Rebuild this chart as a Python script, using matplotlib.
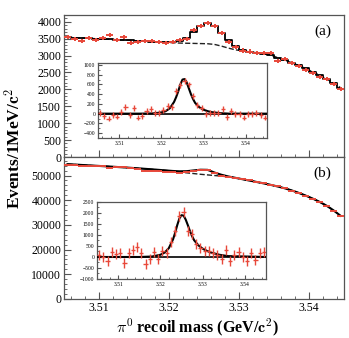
import numpy as np
import matplotlib
matplotlib.use("Agg")
import matplotlib.pyplot as plt
from matplotlib.ticker import MultipleLocator

plt.rcParams['font.family'] = ['Liberation Serif', 'DejaVu Serif']
plt.rcParams['mathtext.fontset'] = 'cm'

# bin centres (1 MeV bins)
mass = np.arange(40) * 0.001 + 3.5055

# panel (a)
data_a = [3550, 3500, 3420, 3510, 3470, 3530, 3620, 3470, 3540, 3380,
          3410, 3420, 3440, 3400, 3360, 3390, 3460, 3490, 3760, 3880,
          3970, 3880, 3660, 3410, 3240, 3150, 3120, 3090, 3070, 3090,
          2840, 2890, 2770, 2690, 2570, 2480, 2380, 2300, 2160, 2000]
fit_a = [3540, 3530, 3520, 3510, 3500, 3490, 3480, 3470, 3460, 3450,
         3430, 3420, 3410, 3400, 3390, 3390, 3430, 3530, 3700, 3880,
         3960, 3870, 3670, 3450, 3280, 3170, 3120, 3090, 3060, 3020,
         2940, 2870, 2790, 2710, 2620, 2520, 2420, 2310, 2190, 2050]
bkg_a = [3540, 3530, 3520, 3510, 3500, 3490, 3480, 3470, 3460, 3450,
         3430, 3420, 3410, 3400, 3390, 3380, 3370, 3365, 3360, 3355,
         3350, 3330, 3280, 3220, 3170, 3140, 3110, 3085, 3060, 3020,
         2940, 2870, 2790, 2710, 2620, 2520, 2420, 2310, 2190, 2050]
err_a = 60

# inset (a): background subtracted
sig_a = [20, -50, -100, -20, -60, 40, 140, -30, 110, -80,
         -50, 50, 90, 20, 20, 70, 150, 140, 470, 580,
         670, 600, 360, 170, 110, -10, 10, 10, 10, 100,
         -70, 50, 0, 0, -80, 0, 0, 10, -30, -80]
curve_x = [3.505, 3.515, 3.518, 3.520, 3.521, 3.522, 3.523, 3.5235, 3.524,
           3.5245, 3.525, 3.5255, 3.526, 3.5265, 3.527, 3.5275, 3.528,
           3.529, 3.530, 3.531, 3.532, 3.534, 3.536, 3.545]
curve_a = [0, 0, 5, 25, 50, 110, 240, 340, 460, 600, 700, 710, 640, 520,
           400, 300, 220, 130, 80, 50, 30, 10, 0, 0]

# panel (b)
data_b = [54400, 54270, 54000, 54000, 53730, 53730, 53070, 53330, 53330, 52930,
          52670, 52000, 52000, 51730, 51600, 51330, 51070, 51330, 52000, 52270,
          52270, 50930, 50000, 49330, 48930, 48400, 48000, 47470, 46930, 46270,
          45600, 44800, 43870, 42930, 41870, 40670, 39330, 37730, 35730, 33600]
fit_b = [54600, 54450, 54280, 54120, 53960, 53800, 53640, 53470, 53300, 53120,
         52930, 52730, 52520, 52300, 52070, 51850, 51700, 51750, 52050, 52350,
         52300, 51200, 50300, 49600, 49050, 48500, 47950, 47400, 46830, 46230,
         45580, 44850, 44000, 43000, 41900, 40700, 39350, 37800, 35900, 33700]
bkg_b = [54600, 54450, 54280, 54120, 53960, 53800, 53640, 53470, 53300, 53120,
         52930, 52730, 52520, 52300, 52070, 51800, 51450, 51100, 50800, 50500,
         50250, 50000, 49750, 49450, 49050, 48500, 47950, 47400, 46830, 46230,
         45580, 44850, 44000, 43000, 41900, 40700, 39350, 37800, 35900, 33700]
err_b = 230

sig_b = [90, -20, -200, 210, 140, 180, -290, 180, 320, 440,
         170, -320, -90, 210, -90, 290, 180, 700, 1200, 1880,
         2060, 1200, 1050, 590, 400, 290, 290, 180, 90, -90,
         330, -200, 90, 210, -20, -170, 180, -130, 180, 210]
curve_b = [0, 0, 20, 100, 200, 400, 800, 1100, 1450, 1750, 1900, 1880,
           1700, 1450, 1180, 950, 760, 530, 380, 280, 200, 100, 40, 0]

red = '#e8483a'
frame = '#555555'

fig = plt.figure(figsize=(3.49, 3.38), dpi=100)
ax_a = fig.add_axes([0.1834, 0.5355, 0.8023, 0.4201])
ax_b = fig.add_axes([0.1834, 0.1154, 0.8023, 0.4201])
in_a = fig.add_axes([0.2808, 0.5917, 0.4842, 0.2219])
in_b = fig.add_axes([0.2779, 0.1746, 0.4842, 0.2278])


def style(ax, size, major, minor):
    for s in ax.spines.values():
        s.set_color(frame)
        s.set_linewidth(0.9)
    ax.tick_params(which='both', direction='in', color=frame, labelsize=size,
                   top=False, right=False, pad=2)
    ax.tick_params(which='major', length=major)
    ax.tick_params(which='minor', length=minor)


# main panels
for ax, d, f, b, e in [(ax_a, data_a, fit_a, bkg_a, err_a),
                       (ax_b, data_b, fit_b, bkg_b, err_b)]:
    ax.plot(mass, b, '--', color='#222222', lw=1.0, zorder=2)
    if ax is ax_a:
        ax.plot(mass, f, color='black', lw=1.3, drawstyle='steps-mid', zorder=3)
    else:
        ax.plot(mass, f, color='black', lw=1.5, zorder=3)
    ax.errorbar(mass, d, xerr=0.0005, yerr=e, fmt='none', ecolor=red,
                elinewidth=1.4, capsize=0, zorder=4)
    ax.set_xlim(3.505, 3.545)
    ax.xaxis.set_major_locator(MultipleLocator(0.01))
    ax.xaxis.set_minor_locator(MultipleLocator(0.002))
    style(ax, 8.5, 5, 2.5)

ax_a.set_ylim(0, 4200)
ax_a.yaxis.set_major_locator(MultipleLocator(500))
ax_a.yaxis.set_minor_locator(MultipleLocator(100))
ax_a.tick_params(labelbottom=False)
ax_a.text(0.955, 0.93, '(a)', transform=ax_a.transAxes, ha='right', va='top',
          fontsize=11)

ax_b.set_ylim(0, 57500)
ax_b.yaxis.set_major_locator(MultipleLocator(10000))
ax_b.yaxis.set_minor_locator(MultipleLocator(2000))
ax_b.text(0.955, 0.93, '(b)', transform=ax_b.transAxes, ha='right', va='top',
          fontsize=11)
ax_b.set_xticks([3.51, 3.52, 3.53, 3.54])
ax_b.set_xticklabels(['3.51', '3.52', '3.53', '3.54'])
ax_b.tick_params(axis='x', pad=2.5)
fig.text(0.565, 0.018, r'$\mathbf{\pi^0}$ recoil mass (GeV/$\mathbf{c^2}$)',
         ha='center', va='baseline', fontsize=11.5, fontweight='bold')
fig.text(0.04, 0.56, r'Events/1MeV/$\mathbf{c^2}$', rotation=90,
         ha='center', va='center', fontsize=12.5, fontweight='bold')

# insets
for ax, s, c, e, lo, hi, step in [(in_a, sig_a, curve_a, err_a, -500, 1040, 200),
                                  (in_b, sig_b, curve_b, err_b, -1000, 2500, 500)]:
    ax.axhline(0, color='black', lw=1.2, zorder=2)
    ax.plot(curve_x, c, color='black', lw=1.5, zorder=3)
    ax.errorbar(mass, s, xerr=0.0005, yerr=e, fmt='none', ecolor=red,
                elinewidth=1.0, capsize=0, zorder=4)
    ax.set_xlim(3.505, 3.545)
    ax.set_ylim(lo, hi)
    ax.set_xticks([3.51, 3.52, 3.53, 3.54])
    ax.set_xticklabels(['3.51', '3.52', '3.53', '3.54'])
    ax.xaxis.set_minor_locator(MultipleLocator(0.002))
    ax.yaxis.set_major_locator(MultipleLocator(step))
    ax.yaxis.set_minor_locator(MultipleLocator(step / 2))
    style(ax, 4, 3, 1.5)

fig.savefig('out.png', dpi=100)
